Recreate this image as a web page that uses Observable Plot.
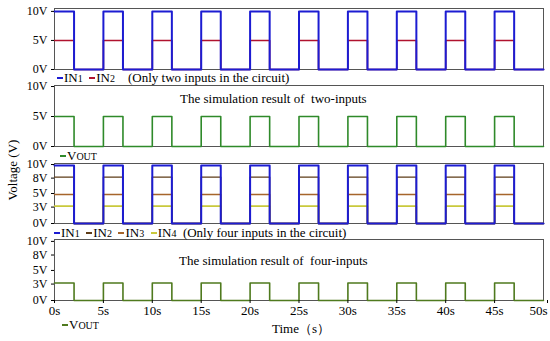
<!DOCTYPE html>
<html>
<head>
<meta charset="utf-8">
<script src="https://cdn.jsdelivr.net/npm/d3@7"></script>
<script src="https://cdn.jsdelivr.net/npm/@observablehq/plot@0.6"></script>
<style>
  html, body { margin: 0; padding: 0; background: #fff; }
  #chart { position: relative; width: 550px; height: 341px; font-family: "Liberation Serif", "Times New Roman", serif; font-size: 13px; color: #000; overflow: hidden; }
  #chart svg { position: absolute; left: 0; }
  .txt { position: absolute; white-space: nowrap; line-height: 1; }
  .sub { font-size: 10px; }
  .sc { font-size: 10px; }
  .dash { display: inline-block; width: 6px; height: 0; border-top: 2px solid; vertical-align: middle; margin-right: 1px; position: relative; top: -1px; }
</style>
</head>
<body>
<div id="chart"></div>
<script>
// Time points of each level change (s)
const times = [0, 2, 5, 7, 10, 12, 15, 17, 20, 22, 25, 27, 30, 32, 35, 37, 40, 42, 45, 47, 50];
// Panel 1: two inputs
const in1Two = [10, 0, 10, 0, 10, 0, 10, 0, 10, 0, 10, 0, 10, 0, 10, 0, 10, 0, 10, 0, 0];
const in2Two = [5, 0, 5, 0, 5, 0, 5, 0, 5, 0, 5, 0, 5, 0, 5, 0, 5, 0, 5, 0, 0];
// Panel 2: output of two inputs
const voutTwo = [5, 0, 5, 0, 5, 0, 5, 0, 5, 0, 5, 0, 5, 0, 5, 0, 5, 0, 5, 0, 0];
// Panel 3: four inputs
const in1Four = [10, 0, 10, 0, 10, 0, 10, 0, 10, 0, 10, 0, 10, 0, 10, 0, 10, 0, 10, 0, 0];
const in2Four = [8, 0, 8, 0, 8, 0, 8, 0, 8, 0, 8, 0, 8, 0, 8, 0, 8, 0, 8, 0, 0];
const in3Four = [5, 0, 5, 0, 5, 0, 5, 0, 5, 0, 5, 0, 5, 0, 5, 0, 5, 0, 5, 0, 0];
const in4Four = [3, 0, 3, 0, 3, 0, 3, 0, 3, 0, 3, 0, 3, 0, 3, 0, 3, 0, 3, 0, 0];
// Panel 4: output of four inputs
const voutFour = [3, 0, 3, 0, 3, 0, 3, 0, 3, 0, 3, 0, 3, 0, 3, 0, 3, 0, 3, 0, 0];

const ticksTwo = [0, 5, 10];
const ticksFour = [0, 3, 5, 8, 10];
const xTicksMain = [0, 5, 10, 15, 20, 25, 30, 35, 40, 45];
const xTicksEnd = [50];

const colors = {
  blue: "#1c1cd2", red: "#b0122e", green2: "#2f8a2a",
  brown: "#5e3c18", orange: "#a6652b", yellow: "#c9c93c", green4: "#4f7a1e"
};

const toRows = (vals) => times.map((t, i) => ({t, v: vals[i]}));

const chart = document.getElementById("chart");

// small vertical nudges for crowded tick labels
const labelNudge = {10: -1, 8: 1, 5: -1, 3: 1, 0: 0};

function panel({top, innerH, yTop, ticks, series, xAxis, crowded}) {
  const mt = 2, mb = xAxis ? 20 : 2;
  const marks = [];
  marks.push(Plot.frame({stroke: "#555", strokeWidth: 1}));
  for (const s of series) {
    marks.push(Plot.line(toRows(s.vals), {x: "t", y: "v", curve: "step-after", stroke: s.color, strokeWidth: s.w || 1.6}));
  }
  if (crowded) {
    for (const t of ticks) {
      marks.push(Plot.axisY({ticks: [t], tickFormat: d => d + "V", tickSize: 3, tickPadding: 4, label: null, fontSize: 12, dy: labelNudge[t]}));
    }
  } else {
    marks.push(Plot.axisY({ticks, tickFormat: d => d + "V", tickSize: 3, tickPadding: 4, label: null, fontSize: 12}));
  }
  if (xAxis) {
    marks.push(Plot.axisX({ticks: xTicksMain, tickFormat: d => d + "s", tickSize: 3, tickPadding: 2, label: null}));
    marks.push(Plot.axisX({ticks: xTicksEnd, tickFormat: d => d + "s", tickSize: 3, tickPadding: 2, label: null, textAnchor: "end", dx: 4}));
  }
  const p = Plot.plot({
    width: 550,
    height: innerH + mt + mb,
    marginLeft: 54, marginRight: 7, marginTop: mt, marginBottom: mb,
    style: {fontFamily: '"Liberation Serif", "Times New Roman", serif', fontSize: "13px", color: "#000", background: "transparent", overflow: "visible"},
    x: {domain: [0, 50], axis: null},
    y: {domain: [0, yTop], axis: null},
    marks
  });
  p.style.top = (top - mt) + "px";
  chart.appendChild(p);
}

panel({top: 8, innerH: 61, yTop: 10.5, ticks: ticksTwo, series: [
  {vals: in2Two, color: colors.red, w: 1.6},
  {vals: in1Two, color: colors.blue, w: 2}
]});
panel({top: 85, innerH: 61, yTop: 10.17, ticks: ticksTwo, series: [
  {vals: voutTwo, color: colors.green2, w: 1.6}
]});
panel({top: 163, innerH: 60, yTop: 10.35, ticks: ticksFour, crowded: true, series: [
  {vals: in4Four, color: colors.yellow, w: 1.6},
  {vals: in3Four, color: colors.orange, w: 1.4},
  {vals: in2Four, color: colors.brown, w: 1.4},
  {vals: in1Four, color: colors.blue, w: 2}
]});
panel({top: 239, innerH: 61, yTop: 10.5, ticks: ticksFour, crowded: true, series: [
  {vals: voutFour, color: colors.green4, w: 1.6}
], xAxis: true});

function addText(html, x, y, extra) {
  const d = document.createElement("div");
  d.className = "txt";
  d.innerHTML = html;
  d.style.left = x + "px";
  d.style.top = y + "px";
  if (extra) Object.assign(d.style, extra);
  chart.appendChild(d);
  return d;
}
const dash = c => `<span class="dash" style="border-color:${c}"></span>`;

addText(`${dash(colors.blue)}IN<span class="sub">1</span>&nbsp;&nbsp;${dash(colors.red)}IN<span class="sub">2</span>&nbsp;&nbsp;&nbsp;&nbsp;(Only two inputs in the circuit)`, 57, 71);
addText(`${dash(colors.green2)}V<span class="sc">OUT</span>`, 60, 149);
addText(`${dash(colors.blue)}IN<span class="sub">1</span>&nbsp;&nbsp;${dash(colors.brown)}IN<span class="sub">2</span>&nbsp;&nbsp;${dash(colors.orange)}IN<span class="sub">3</span>&nbsp;&nbsp;${dash(colors.yellow)}IN<span class="sub">4</span>&nbsp;&nbsp;(Only four inputs in the circuit)`, 54, 226);
addText(`${dash(colors.green4)}V<span class="sc">OUT</span>`, 62, 318);

addText("The simulation result of&nbsp; two-inputs", 180, 92);
addText("The simulation result of&nbsp; four-inputs", 179, 254);
addText("Time（s）", 272, 322);
addText("Voltage (V)", 12, 170, {transform: "translate(-50%, -50%) rotate(-90deg)"});
</script>
</body>
</html>
